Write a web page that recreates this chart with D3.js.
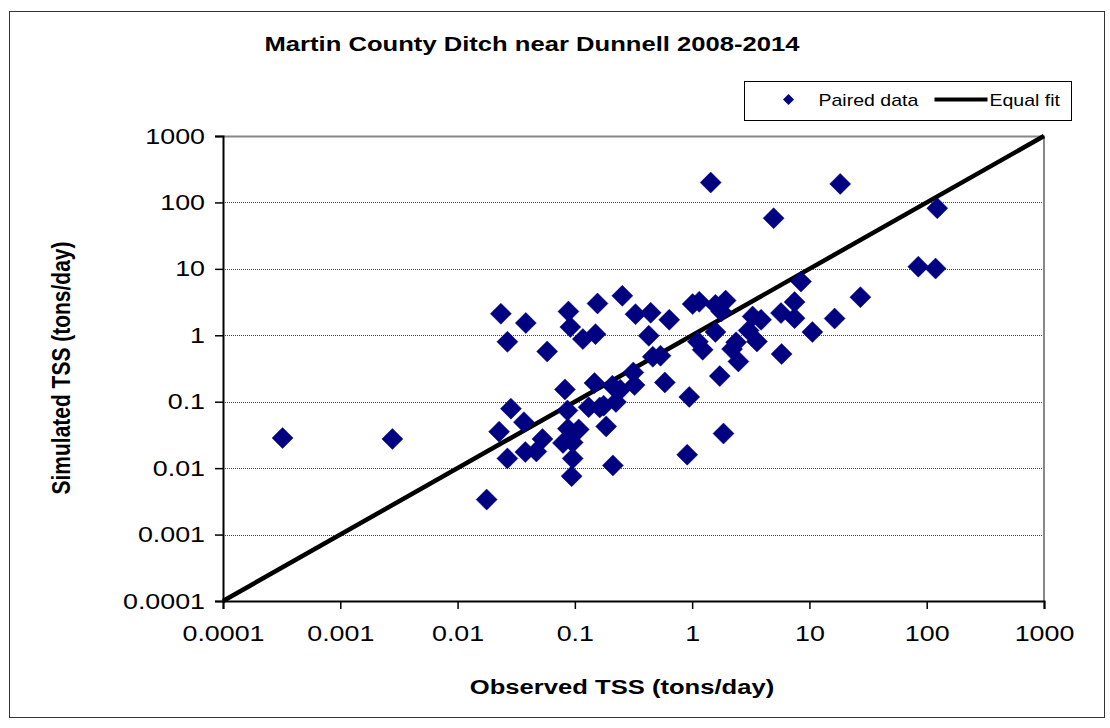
<!DOCTYPE html>
<html>
<head>
<meta charset="utf-8">
<script src="https://cdn.jsdelivr.net/npm/d3@7"></script>
<style>
    body { margin: 0; background: #fff; }
    text { font-family: Arial, "Liberation Sans", sans-serif; }
</style>
</head>
<body>
<div id="chart"></div>
<script>

// observed TSS (tons/day)
let observed = [
    0.000322, 0.00278, 0.0177, 0.0234, 0.0382, 0.0266, 0.0581, 0.0882, 0.0915, 0.117,
    0.150, 0.156, 0.254, 0.329, 0.443, 0.638, 0.427, 0.462, 0.537, 1.01,
    1.15, 1.58, 1.93, 1.77, 1.58, 1.12, 1.23, 2.37, 2.19, 2.48,
    0.315, 0.323, 0.585, 1.72, 0.147, 0.209, 0.244, 0.224, 0.0823, 0.131,
    0.163, 0.176, 0.185, 0.0864, 0.0285, 0.0368, 0.0226, 0.0872, 0.108, 0.0529,
    0.0792, 0.0958, 0.0378, 0.047, 0.0266, 0.0958, 0.211, 0.0939, 0.945, 1.85,
    0.907, 1.44, 18.3, 4.95, 8.47, 27.2, 5.72, 7.47, 7.47, 16.4,
    3.28, 3.87, 3.03, 3.57, 10.6, 5.79, 123, 84.8, 119
];

// simulated TSS (tons/day), same order
let simulated = [
    0.0284, 0.0275, 0.00336, 2.11, 1.53, 0.799, 0.571, 2.28, 1.33, 0.877,
    1.04, 3.01, 3.93, 2.08, 2.18, 1.71, 0.983, 0.475, 0.492, 2.95,
    3.19, 2.87, 3.33, 2.28, 1.12, 0.799, 0.605, 0.785, 0.620, 0.404,
    0.276, 0.178, 0.195, 0.243, 0.191, 0.174, 0.152, 0.099, 0.153, 0.0827,
    0.0821, 0.0871, 0.0425, 0.0738, 0.0785, 0.0492, 0.0354, 0.0393, 0.0383, 0.0275,
    0.0239, 0.0244, 0.0175, 0.0178, 0.0140, 0.0140, 0.0110, 0.00758, 0.118, 0.0332,
    0.0159, 199, 190, 57.9, 6.44, 3.75, 2.16, 3.16, 1.81, 1.79,
    1.92, 1.71, 1.18, 0.807, 1.12, 0.522, 81.8, 10.8, 10.1
];

let tickValues = [0.0001, 0.001, 0.01, 0.1, 1, 10, 100, 1000];
let tickLabels = ["0.0001", "0.001", "0.01", "0.1", "1", "10", "100", "1000"];
let equalFit = [0.0001, 1000];

let title = "Martin County Ditch near Dunnell 2008-2014";
let xTitle = "Observed TSS (tons/day)";
let yTitle = "Simulated TSS (tons/day)";

let width = 1110, height = 728;
let margin = {top: 136, right: 66, bottom: 127, left: 223};
let innerW = width - margin.left - margin.right,
    innerH = height - margin.top - margin.bottom;

let navy = "#000080";
// the original picture is stretched sideways, so the text is too
let stretch = 1.22;

let svg = d3.select("#chart").append("svg")
    .attr("width", width)
    .attr("height", height);

// outer frame
svg.append("rect")
    .attr("x", 9.5).attr("y", 11.5)
    .attr("width", 1095).attr("height", 706)
    .attr("fill", "#fff")
    .attr("stroke", "#333")
    .attr("stroke-width", 1);

let g = svg.append("g")
    .attr("transform", `translate(${margin.left}, ${margin.top})`);

// scales
let x = d3.scaleLog().domain([0.0001, 1000]).range([0, innerW]);
let y = d3.scaleLog().domain([0.0001, 1000]).range([innerH, 0]);

// grid lines (dotted)
g.selectAll(".grid")
    .data(tickValues.slice(1, -1))
    .enter().append("line")
    .attr("class", "grid")
    .attr("x1", 0).attr("x2", innerW)
    .attr("y1", d => Math.round(y(d)) + 0.5)
    .attr("y2", d => Math.round(y(d)) + 0.5)
    .attr("stroke", "#444")
    .attr("stroke-width", 1)
    .attr("stroke-dasharray", "1,1");

// plot area top / right border
g.append("path")
    .attr("d", `M0,0.5H${innerW}V${innerH}`)
    .attr("fill", "none")
    .attr("stroke", "#888")
    .attr("stroke-width", 2);

// axes
let fmt = d => tickLabels[tickValues.indexOf(d)];

let xAxis = d3.axisBottom(x)
    .tickValues(tickValues)
    .tickFormat(fmt)
    .tickSize(8)
    .tickPadding(16);

let yAxis = d3.axisLeft(y)
    .tickValues(tickValues)
    .tickFormat(fmt)
    .tickSize(8)
    .tickPadding(10);

let xAxisGroup = g.append("g")
    .attr("class", "x-axis")
    .attr("transform", `translate(0, ${innerH})`)
    .call(xAxis);

let yAxisGroup = g.append("g")
    .attr("class", "y-axis")
    .call(yAxis);

[xAxisGroup, yAxisGroup].forEach(a => {
    a.select(".domain").attr("stroke", "#000").attr("stroke-width", 2);
    a.selectAll(".tick line").attr("stroke", "#000").attr("stroke-width", 1.5);
    a.selectAll(".tick text")
        .attr("fill", "#000")
        .attr("transform", `scale(${stretch},1)`)
        .style("font-size", "22px")
        .style("font-family", "Arial, 'Liberation Sans', sans-serif");
});
xAxisGroup.selectAll(".tick text").attr("dy", "0.71em");
yAxisGroup.selectAll(".tick text").attr("x", -18 / stretch);

// equal fit line
g.append("line")
    .attr("x1", x(equalFit[0])).attr("y1", y(equalFit[0]))
    .attr("x2", x(equalFit[1])).attr("y2", y(equalFit[1]))
    .attr("stroke", "#000")
    .attr("stroke-width", 4.5);

// diamonds
let diamond = r => `M0,${-r}L${r},0L0,${r}L${-r},0Z`;

let pairs = observed.map((d, i) => ({obs: d, sim: simulated[i]}));

g.selectAll(".pt")
    .data(pairs)
    .enter().append("path")
    .attr("class", "pt")
    .attr("d", diamond(10.5))
    .attr("transform", d => `translate(${x(d.obs)}, ${y(d.sim)})`)
    .attr("fill", navy)
    .attr("stroke", navy)
    .attr("stroke-width", 0.5);

// titles
svg.append("text")
    .attr("transform", `translate(532, 51) scale(${stretch},1)`)
    .attr("text-anchor", "middle")
    .style("font-size", "21px")
    .style("font-weight", "bold")
    .text(title);

svg.append("text")
    .attr("transform", `translate(622, 694) scale(${stretch},1)`)
    .attr("text-anchor", "middle")
    .style("font-size", "21px")
    .style("font-weight", "bold")
    .text(xTitle);

svg.append("text")
    .attr("transform", `translate(70, 368) scale(${stretch},1) rotate(-90)`)
    .attr("text-anchor", "middle")
    .style("font-size", "21px")
    .style("font-weight", "bold")
    .text(yTitle);

// legend
let legend = svg.append("g").attr("transform", "translate(744.5, 81.5)");
legend.append("rect")
    .attr("width", 327).attr("height", 39)
    .attr("fill", "#fff")
    .attr("stroke", "#000")
    .attr("stroke-width", 1);
legend.append("path")
    .attr("d", diamond(5.5))
    .attr("transform", "translate(44, 18)")
    .attr("fill", navy);
legend.append("text")
    .attr("transform", `translate(74, 24) scale(${stretch},1)`)
    .style("font-size", "16px")
    .text("Paired data");
legend.append("line")
    .attr("x1", 190).attr("x2", 243)
    .attr("y1", 18).attr("y2", 18)
    .attr("stroke", "#000")
    .attr("stroke-width", 4);
legend.append("text")
    .attr("transform", `translate(245, 24) scale(${stretch},1)`)
    .style("font-size", "16px")
    .text("Equal fit");

</script>
</body>
</html>
